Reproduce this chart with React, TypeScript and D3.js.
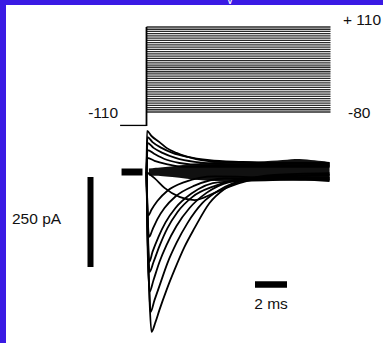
import React from 'react';
import * as d3 from 'd3';

// Voltage protocol (mV)
const holdingVoltage = -110;
const stepVoltages = [-80, -75, -70, -65, -60, -55, -50, -45, -40, -35, -30, -25, -20, -15, -10, -5, 0, 5, 10, 15, 20, 25, 30, 35, 40, 45, 50, 55, 60, 65, 70, 75, 80, 85, 90, 95, 100, 105, 110];
const voltageLabels = ['-110', '-80', '+ 110'];

// Current traces: [time ms, current pA]
const inwardTraces: [number, number][][] = [
  [[0, 0], [0.06, -160], [0.19, -356], [0.31, -444], [0.56, -417], [0.81, -383], [1.25, -328], [1.75, -272], [2.375, -208], [3.0, -156], [3.94, -86], [4.875, -47], [6.125, -22], [8.0, -8], [11.44, -3]],
  [[0, 0], [0.06, -160], [0.19, -342], [0.25, -389], [0.5, -356], [0.875, -308], [1.31, -253], [1.875, -197], [2.56, -142], [3.5, -86], [4.56, -50], [6.125, -22], [8.3, -11], [11.44, -8]],
  [[0, 0], [0.06, -190], [0.19, -333], [0.44, -300], [0.81, -250], [1.25, -203], [1.875, -150], [2.69, -100], [3.75, -58], [5.19, -28], [7.7, -14], [11.44, -14]],
  [[0, 0], [0.12, -217], [0.19, -278], [0.44, -250], [0.81, -206], [1.31, -156], [1.94, -111], [2.875, -69], [4.25, -39], [6.44, -17], [11.44, -17]],
  [[0, 0], [0.12, -222], [0.17, -250], [0.375, -222], [0.75, -180], [1.19, -140], [1.81, -100], [2.81, -60], [4.56, -28], [11.44, -20]],
  [[0, 0], [0.12, -167], [0.17, -180], [0.375, -160], [0.69, -130], [1.125, -100], [1.81, -68], [3.0, -38], [4.875, -18], [11.44, -22]],
  [[0, 0], [0.06, -111], [0.12, -120], [0.31, -105], [0.69, -80], [1.31, -52], [2.375, -28], [4.25, -12], [11.44, -25]],
  [[0, 0], [0.5, -17], [1.125, -44], [2.06, -69], [3.0, -78], [4.25, -58], [5.8, -31], [7.7, -14], [11.44, -8]],
];

const outwardTraces: [number, number][][] = [
  [[0, 0], [0.03, 114], [0.31, 100], [0.81, 83], [1.25, 67], [1.875, 53], [3.1, 36], [4.5, 28], [7.0, 25], [11.44, 25]],
  [[0, 0], [0.06, 97], [0.375, 83], [0.94, 67], [1.625, 53], [2.56, 42], [3.94, 33], [6.0, 28], [11.44, 22]],
  [[0, 0], [0.06, 81], [0.44, 67], [1.0, 53], [1.81, 39], [3.0, 28], [5.0, 22], [11.44, 19]],
  [[0, 0], [0.06, 61], [0.5, 50], [1.125, 36], [2.06, 25], [3.5, 19], [11.44, 17]],
  [[0, 0], [0.06, 39], [0.5, 31], [1.25, 22], [2.5, 14], [11.44, 14]],
];

// Noise band of settled currents
const bandTop: [number, number][] = [[0.15, 10], [1.5, 14], [3.0, 24], [4.56, 30], [7.06, 28], [8.6, 33], [9.56, 38], [10.5, 32], [11.44, 28]];
const bandBottom: [number, number][] = [[0.15, -10], [1.5, -12], [3.5, -26], [6.44, -24], [9.56, -24], [11.44, -22]];
const preStepBaseline: [number, number][] = [[-1.56, 0], [-0.25, 0]];

const protocolStart = -1.65;
const protocolEnd = 11.5;
const scaleBarTime = 2;
const scaleBarCurrent = 250;

const W = 383;
const H = 343;
const FONT = "'Liberation Sans', Arial, Helvetica, sans-serif";

export default function App() {
  const x = d3.scaleLinear().domain([0, 2]).range([146.5, 178.5]);
  const yV = d3.scaleLinear().domain([-80, 110]).range([112, 27]);
  const yI = d3.scaleLinear().domain([0, -250]).range([172, 262]);

  const traceLine = d3
    .line<[number, number]>()
    .x((d) => x(d[0]))
    .y((d) => yI(d[1]))
    .curve(d3.curveMonotoneX);

  const bandLine = d3
    .line<[number, number]>()
    .x((d) => x(d[0]))
    .y((d) => yI(d[1]))
    .curve(d3.curveBasis);

  const bandPath =
    (bandLine(bandTop) as string) +
    'L' +
    (bandLine([...bandBottom].reverse()) as string).slice(1) +
    'Z';

  // scale bar anchors
  const pABarX = 90.5;
  const pABarTop = 177;
  const pABarLen = yI(-scaleBarCurrent) - yI(0);
  const msBarX0 = 255;
  const msBarLen = x(scaleBarTime) - x(0);
  const msBarY = 284.5;

  return (
    <svg
      width={W}
      height={H}
      style={{ position: 'absolute', left: 0, top: 0, display: 'block' }}
      fontFamily={FONT}
    >
      <rect x={0} y={0} width={W} height={H} fill="#ffffff" />
      <rect x={0} y={0} width={W} height={5} fill="#3a1ae4" />
      <rect x={0} y={0} width={6} height={H} fill="#3a1ae4" />
      <text x={230} y={4} fontSize={12} fill="#ffffff" textAnchor="middle">v</text>

      {/* voltage protocol */}
      {stepVoltages.map((v) => (
        <line key={v} x1={x(0)} x2={x(protocolEnd)} y1={yV(v)} y2={yV(v)} stroke="#2a2a2a" strokeWidth={1.3} />
      ))}
      <line x1={x(protocolStart)} x2={x(0)} y1={yV(holdingVoltage)} y2={yV(holdingVoltage)} stroke="#000" strokeWidth={1.3} />
      <line x1={x(0)} x2={x(0)} y1={yV(holdingVoltage) + 0.6} y2={yV(110)} stroke="#000" strokeWidth={1.8} />
      <text x={118} y={118} fontSize={15.5} textAnchor="end" fill="#111">{voltageLabels[0]}</text>
      <text x={348} y={118} fontSize={15.5} fill="#111">{voltageLabels[1]}</text>
      <text x={343} y={25} fontSize={15.5} fill="#111">{voltageLabels[2]}</text>

      {/* current traces */}
      <path d={bandPath} fill="#111" />
      <path d={traceLine(preStepBaseline) as string} stroke="#000" strokeWidth={7} fill="none" />
      {outwardTraces.map((t, i) => (
        <path key={'o' + i} d={traceLine(t) as string} fill="none" stroke="#000" strokeWidth={1.8} />
      ))}
      {inwardTraces.map((t, i) => (
        <path key={'i' + i} d={traceLine(t) as string} fill="none" stroke="#000" strokeWidth={1.8} />
      ))}

      {/* scale bars */}
      <line x1={pABarX} x2={pABarX} y1={pABarTop} y2={pABarTop + pABarLen} stroke="#000" strokeWidth={6} />
      <text x={12} y={224} fontSize={15.5} fill="#111">{`${scaleBarCurrent} pA`}</text>
      <line x1={msBarX0} x2={msBarX0 + msBarLen} y1={msBarY} y2={msBarY} stroke="#000" strokeWidth={6.5} />
      <text x={msBarX0 + msBarLen / 2} y={309} fontSize={15.5} textAnchor="middle" fill="#111">{`${scaleBarTime} ms`}</text>
    </svg>
  );
}
